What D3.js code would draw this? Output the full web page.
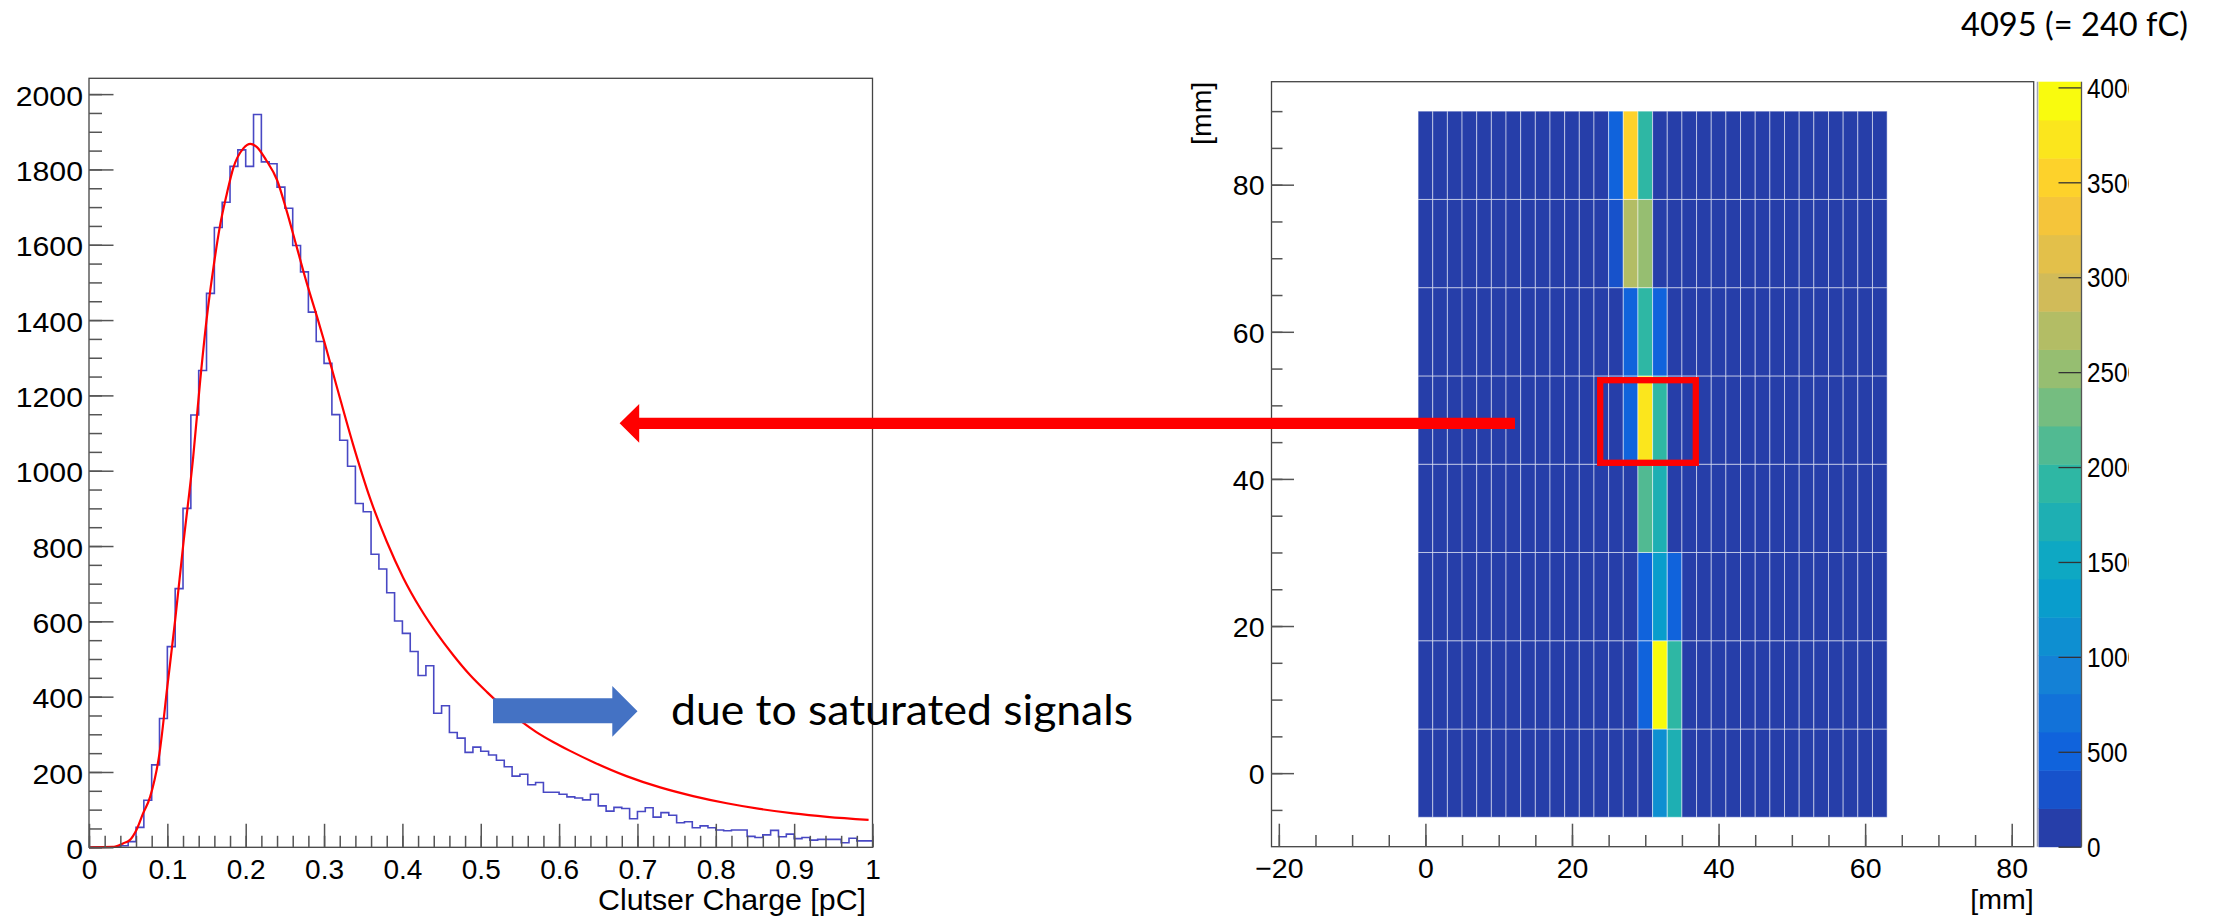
<!DOCTYPE html>
<html>
<head>
<meta charset="utf-8">
<script src="https://cdn.jsdelivr.net/npm/d3@7"></script>
<style>
  body { margin: 0; background: #fff; }
  svg { display: block; }
</style>
</head>
<body>
<div class="container"></div>
<script>
// ---------- left histogram: cluster charge, 100 bins of 0.01 pC
const binWidth = 0.01
const chargeCounts = [
  0, 0, 0, 1, 4, 15, 53, 125, 219, 342,
  533, 687, 900, 1148, 1266, 1471, 1646, 1713, 1808, 1852,
  1808, 1946, 1820, 1815, 1753, 1697, 1598, 1528, 1421, 1343,
  1285, 1149, 1081, 1012, 913, 891, 778, 739, 676, 601,
  568, 520, 456, 482, 356, 376, 305, 290, 252, 266,
  255, 245, 231, 214, 189, 194, 166, 172, 146, 146,
  141, 134, 131, 126, 141, 110, 96, 106, 103, 76,
  95, 105, 80, 92, 85, 65, 68, 52, 57, 52,
  46, 44, 46, 46, 29, 26, 33, 45, 28, 35,
  23, 26, 19, 21, 21, 21, 12, 24, 17, 17
]
// fit curve
const fitCharge = [0, 0.03, 0.044, 0.052, 0.061, 0.069, 0.078, 0.09, 0.10, 0.11, 0.12, 0.133, 0.142,
  0.15, 0.159, 0.167, 0.176, 0.184, 0.197, 0.206, 0.214, 0.226, 0.24, 0.252, 0.265, 0.278, 0.291,
  0.30, 0.316, 0.337, 0.359, 0.38, 0.401, 0.423, 0.444, 0.465, 0.486, 0.508, 0.529, 0.55, 0.571,
  0.593, 0.614, 0.644, 0.686, 0.729, 0.771, 0.814, 0.856, 0.899, 0.942, 0.995]
const fitCounts = [0, 1, 11, 19, 48, 90, 134, 250, 427, 604, 798, 1037, 1241,
  1400, 1542, 1648, 1736, 1803, 1856, 1868, 1860, 1825, 1772, 1692, 1595, 1498, 1409,
  1345, 1225, 1070, 925, 812, 716, 634, 568, 510, 458, 412, 372, 337, 306,
  279, 256, 226, 189, 159, 136, 117, 102, 90, 81, 73]
const chargeTicks = [0, 0.1, 0.2, 0.3, 0.4, 0.5, 0.6, 0.7, 0.8, 0.9, 1]
const countTicks = [0, 200, 400, 600, 800, 1000, 1200, 1400, 1600, 1800, 2000]

// ---------- right map: 32 strips of 2 mm x 8 rows of 12 mm, ADC counts
const stripCount = 32
const rowEdges = [-6, 6, 18, 30, 42, 54, 66, 78]
const pedestalAdc = 60
const hitStrip = [13, 14, 15, 13, 14, 15, 14, 15, 16, 14, 15, 16, 15, 16, 15, 16, 17, 15, 16, 17, 16, 17]
const hitRow   = [7, 7, 7, 6, 6, 6, 5, 5, 5, 4, 4, 4, 3, 3, 2, 2, 2, 1, 1, 1, 0, 0]
const hitAdc   = [500, 3530, 1920, 330, 2720, 2520, 480, 1950, 470, 490, 3740, 1930, 2100, 1750,
  460, 1300, 440, 500, 4030, 1880, 1100, 1700]
const adcMax = 4030
const adcTicks = [0, 500, 1000, 1500, 2000, 2500, 3000, 3500, 4000]
const mmXTicks = [-20, 0, 20, 40, 60, 80]
const mmYTicks = [0, 20, 40, 60, 80]

// kBird palette
const birdStops = [0.0, 0.125, 0.25, 0.375, 0.5, 0.625, 0.75, 0.875, 1.0]
const birdRed   = [0.2082, 0.0592, 0.0780, 0.0232, 0.1802, 0.5301, 0.8186, 0.9956, 0.9764]
const birdGreen = [0.1664, 0.3599, 0.5041, 0.6419, 0.7178, 0.7492, 0.7328, 0.7862, 0.9832]
const birdBlue  = [0.5293, 0.8684, 0.8385, 0.7914, 0.6425, 0.4662, 0.3499, 0.1968, 0.0539]
const nContours = 20

const width = 2220, height = 917
const axisFont = '"Liberation Sans", Arial, Helvetica, sans-serif'
const slideFont = 'Lato, "Open Sans", sans-serif'

const svg = d3.select(".container").append("svg")
  .attr("width", width).attr("height", height)
  .attr("viewBox", [0, 0, width, height])

function styleAxis(g, size) {
  g.select(".domain").remove()
  g.attr("font-family", axisFont).attr("font-size", size)
  g.selectAll(".tick line").attr("stroke", "#555").attr("stroke-width", 1.5)
  g.selectAll(".tick text").attr("fill", "#000")
}

// =============== left plot
const x = d3.scaleLinear().domain([0, 1]).range([89, 872.5])
const y = d3.scaleLinear().domain([0, 2042]).range([847.3, 78.3])

const histPts = chargeCounts.map((c, i) => [i * binWidth, c])
histPts.push([1, chargeCounts[chargeCounts.length - 1]])

svg.append("path")
  .datum(histPts)
  .attr("fill", "none")
  .attr("stroke", "#4848c4")
  .attr("stroke-width", 1.6)
  .attr("d", d3.line().x(d => x(d[0])).y(d => y(d[1])).curve(d3.curveStepAfter))

svg.append("path")
  .datum(fitCharge.map((c, i) => [c, fitCounts[i]]))
  .attr("fill", "none")
  .attr("stroke", "#ff0000")
  .attr("stroke-width", 2.2)
  .attr("d", d3.line().x(d => x(d[0])).y(d => y(d[1])).curve(d3.curveMonotoneX))

svg.append("rect")
  .attr("x", x(0)).attr("y", y(2042))
  .attr("width", x(1) - x(0)).attr("height", y(0) - y(2042))
  .attr("fill", "none").attr("stroke", "#444").attr("stroke-width", 1.3)

// minor ticks
svg.append("g").attr("transform", `translate(0,${y(0)})`)
  .call(d3.axisBottom(x).tickValues(d3.range(0, 51).map(i => i / 50)).tickSize(-11.5).tickFormat(""))
  .call(g => styleAxis(g, 28))
svg.append("g").attr("transform", `translate(${x(0)},0)`)
  .call(d3.axisLeft(y).tickValues(d3.range(0, 41).map(i => i * 50)).tickSize(-13).tickFormat(""))
  .call(g => styleAxis(g, 28))

const gxL = svg.append("g").attr("transform", `translate(0,${y(0)})`)
  .call(d3.axisBottom(x).tickValues(chargeTicks).tickSize(-23.5).tickPadding(12).tickFormat(d => String(d)))
  .call(g => styleAxis(g, 28))

const gyL = svg.append("g").attr("transform", `translate(${x(0)},0)`)
  .call(d3.axisLeft(y).tickValues(countTicks).tickSize(-24.5).tickPadding(6).tickFormat(d => String(d)))
  .call(g => styleAxis(g, 28))
gyL.selectAll(".tick text").attr("dy", "0.4em")
  .each(function() {
    const w = this.getComputedTextLength()
    d3.select(this).attr("textLength", w * 1.08).attr("lengthAdjust", "spacingAndGlyphs")
  })

svg.append("text")
  .attr("x", 866).attr("y", 910)
  .attr("text-anchor", "end")
  .attr("font-family", axisFont).attr("font-size", 29)
  .attr("textLength", 268).attr("lengthAdjust", "spacingAndGlyphs")
  .text("Clutser Charge [pC]")

// =============== right plot
const xr = d3.scaleLinear().domain([-21, 83]).range([1271.5, 2033.7])
const yr = d3.scaleLinear().domain([-10, 94]).range([846.7, 81.7])
const z = d3.scaleLinear().domain([0, adcMax]).range([846.7, 81.7])

const birdColors = birdStops.map((s, i) =>
  d3.rgb(birdRed[i] * 255, birdGreen[i] * 255, birdBlue[i] * 255).formatHex())
const bird = d3.scaleLinear().domain(birdStops).range(birdColors).interpolate(d3.interpolateRgb)
const bandColor = d3.range(nContours).map(k => bird((k + 0.99) / nContours))
const adcColor = v => bandColor[Math.min(nContours - 1, Math.floor(v / adcMax * nContours))]

// build the cell grid
const cells = []
rowEdges.forEach((r0, r) => {
  for (let s = 0; s < stripCount; s++) cells.push({ strip: s, row: r, y0: r0, adc: pedestalAdc })
})
hitStrip.forEach((s, i) => {
  const c = cells.find(d => d.strip === s && d.row === hitRow[i])
  c.adc = hitAdc[i]
})

svg.append("g")
  .selectAll("rect")
  .data(cells)
  .join("rect")
  .attr("x", d => xr(-1 + 2 * d.strip))
  .attr("width", xr(2) - xr(0))
  .attr("y", d => yr(d.y0 + 12))
  .attr("height", yr(0) - yr(12))
  .attr("fill", d => adcColor(d.adc))
  .attr("stroke", "rgba(255,255,255,0.5)")
  .attr("stroke-width", 1)

svg.append("rect")
  .attr("x", xr(-21)).attr("y", yr(94))
  .attr("width", xr(83) - xr(-21)).attr("height", yr(-10) - yr(94))
  .attr("fill", "none").attr("stroke", "#444").attr("stroke-width", 1.3)

svg.append("g").attr("transform", `translate(0,${yr(-10)})`)
  .call(d3.axisBottom(xr).tickValues(d3.range(-20, 81, 5)).tickSize(-11.7).tickFormat(""))
  .call(g => styleAxis(g, 28))
svg.append("g").attr("transform", `translate(${xr(-21)},0)`)
  .call(d3.axisLeft(yr).tickValues(d3.range(-5, 91, 5)).tickSize(-11).tickFormat(""))
  .call(g => styleAxis(g, 28))

svg.append("g").attr("transform", `translate(0,${yr(-10)})`)
  .call(d3.axisBottom(xr).tickValues(mmXTicks).tickSize(-23).tickPadding(11.5)
    .tickFormat(d => d < 0 ? "\u2212" + (-d) : String(d)))
  .call(g => styleAxis(g, 28.5))

svg.append("g").attr("transform", `translate(${xr(-21)},0)`)
  .call(d3.axisLeft(yr).tickValues(mmYTicks).tickSize(-22.5).tickPadding(7).tickFormat(d => String(d)))
  .call(g => styleAxis(g, 28.5))
  .call(g => g.selectAll(".tick text").attr("dy", "0.36em"))

svg.append("text")
  .attr("x", 2033.7).attr("y", 909)
  .attr("text-anchor", "end")
  .attr("font-family", axisFont).attr("font-size", 28.5)
  .text("[mm]")

svg.append("text")
  .attr("transform", `translate(1211,${yr(94)}) rotate(-90)`)
  .attr("text-anchor", "end")
  .attr("font-family", axisFont).attr("font-size", 28.5)
  .text("[mm]")

// colour bar
const barX0 = 2038.5, barX1 = 2081.5
svg.append("g")
  .selectAll("rect")
  .data(d3.range(nContours))
  .join("rect")
  .attr("x", barX0).attr("width", barX1 - barX0)
  .attr("y", k => z((k + 1) * adcMax / nContours))
  .attr("height", z(0) - z(adcMax / nContours) + 0.5)
  .attr("fill", k => bandColor[k])

svg.append("line")
  .attr("x1", barX0 - 1).attr("x2", barX0 - 1)
  .attr("y1", z(adcMax)).attr("y2", z(0))
  .attr("stroke", "#a0a4b8").attr("stroke-width", 1.5)

svg.append("defs").append("clipPath").attr("id", "barclip")
  .append("rect").attr("x", 0).attr("y", 0).attr("width", 2129).attr("height", height)

svg.append("g")
  .attr("clip-path", "url(#barclip)")
  .append("g")
  .attr("transform", `translate(${barX1},0)`)
  .call(d3.axisRight(z).tickValues(adcTicks).tickSize(-23).tickPadding(5.5).tickFormat(d => String(d)))
  .call(g => styleAxis(g, 27))
  .call(g => g.selectAll(".tick line").attr("stroke", "#333").attr("stroke-width", 1.3))
  .call(g => g.selectAll(".tick text").attr("dy", "0.36em")
    .each(function() {
      const w = this.getComputedTextLength()
      d3.select(this).attr("textLength", w * 0.9).attr("lengthAdjust", "spacingAndGlyphs")
    }))

svg.append("line")
  .attr("x1", barX1).attr("x2", barX1)
  .attr("y1", z(adcMax)).attr("y2", z(0))
  .attr("stroke", "#555").attr("stroke-width", 1.3)

svg.append("text")
  .attr("x", 1961).attr("y", 35.5)
  .attr("font-family", slideFont).attr("font-size", 33)
  .attr("textLength", 227).attr("lengthAdjust", "spacingAndGlyphs")
  .text("4095 (= 240 fC)")

// =============== slide annotations
svg.append("path")
  .attr("fill", "#ff0000")
  .attr("d", "M619.6,423.3 L639.2,404 L639.2,417.7 L1515,417.7 L1515,429 L639.2,429 L639.2,442.7 Z")

svg.append("rect")
  .attr("x", 1600.2).attr("y", 380.2)
  .attr("width", 95.6).attr("height", 82.6)
  .attr("fill", "none").attr("stroke", "#ff0000").attr("stroke-width", 6.3)

svg.append("path")
  .attr("fill", "#4472c4")
  .attr("d", "M493,698.3 L612.3,698.3 L612.3,686 L637.5,711.3 L612.3,736.7 L612.3,723.3 L493,723.3 Z")

svg.append("text")
  .attr("x", 671).attr("y", 725)
  .attr("font-family", slideFont).attr("font-size", 43)
  .attr("textLength", 462).attr("lengthAdjust", "spacingAndGlyphs")
  .text("due to saturated signals")
</script>
</body>
</html>
